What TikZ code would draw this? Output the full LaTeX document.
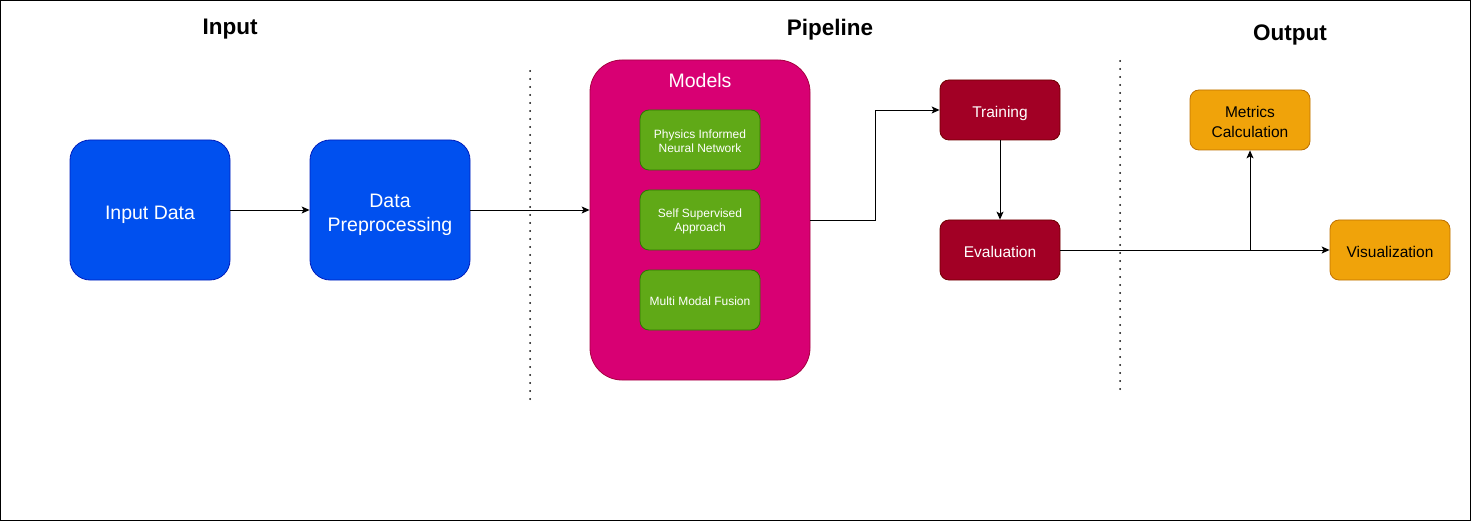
\documentclass[tikz,border=0pt]{standalone}
\usepackage{fontspec}
\setmainfont{Liberation Sans}
\usetikzlibrary{arrows.meta}
\definecolor{blueF}{HTML}{0050EF}
\definecolor{blueS}{HTML}{001DBC}
\definecolor{pinkF}{HTML}{D80073}
\definecolor{pinkS}{HTML}{A50040}
\definecolor{greenF}{HTML}{60A917}
\definecolor{greenS}{HTML}{2D7600}
\definecolor{redF}{HTML}{A20025}
\definecolor{redS}{HTML}{6F0000}
\definecolor{orF}{HTML}{F0A30A}
\definecolor{orS}{HTML}{BD7000}
\tikzset{
  box/.style={draw, line width=0.8pt, inner sep=2pt, align=center, text=white},
  bluebox/.style={box, fill=blueF, draw=blueS, minimum width=160pt, minimum height=140pt, rounded corners=20pt,
     font=\fontsize{19.5}{24}\selectfont},
  modelbox/.style={box, fill=pinkF, draw=pinkS, minimum width=220pt, minimum height=320pt, rounded corners=32pt},
  greenbox/.style={box, fill=greenF, draw=greenS, minimum width=120pt, minimum height=60pt, rounded corners=9pt,
     font=\fontsize{12}{14}\selectfont},
  redbox/.style={box, fill=redF, draw=redS, minimum width=120pt, minimum height=60pt, rounded corners=9pt,
     font=\fontsize{15.5}{19}\selectfont},
  orbox/.style={box, fill=orF, draw=orS, minimum width=120pt, minimum height=60pt, rounded corners=9pt, text=black,
     font=\fontsize{15.5}{20}\selectfont},
  title/.style={font=\fontsize{22.5}{26}\selectfont\bfseries, inner sep=0pt},
  conn/.style={draw=black, line width=0.9pt, -{Stealth[length=8pt,width=7pt,inset=2pt]}},
  sep/.style={draw=black, line width=2pt, line cap=round, dash pattern=on 0pt off 8pt},
}
\begin{document}
\begin{tikzpicture}[x=1pt,y=-1pt]
\useasboundingbox (0,0) rectangle (1471,521);
\draw[line width=1.2pt] (0.6,0.6) rectangle (1470.4,520.4);

\node[title] (tin) at (230,29) {Input};
\node[title] (tpipe) at (830,30) {Pipeline};
\node[title] (tout) at (1290,35) {Output};

\coordinate (s1a) at (530,71);
\coordinate (s1b) at (530,400);
\coordinate (s2a) at (1120,61);
\coordinate (s2b) at (1120,390);
\draw[sep] (s1a) -- (s1b);
\draw[sep] (s2a) -- (s2b);

\node[bluebox, text height=22.2pt, text depth=4.1pt] (input) at (150,210) {Input Data};
\node[bluebox, text height=46.2pt, text depth=4.1pt] (prep) at (390,210) {Data\\Preprocessing};

\node[modelbox] (models) at (700,220) {};
\node[text=white, font=\fontsize{19.5}{24}\selectfont, inner sep=0pt] (mlabel) at (700,81) {Models};
\node[greenbox, text height=24.8pt, text depth=0pt] (pinn) at (700,140) {Physics Informed\\Neural Network};
\node[greenbox, text height=24.8pt, text depth=2.5pt] (ssa) at (700,220) {Self Supervised\\Approach};
\node[greenbox, text height=10.8pt, text depth=0pt] (mmf) at (700,300) {Multi Modal Fusion};

\node[redbox, text height=18.5pt, text depth=3.3pt] (train) at (1000,110) {Training};
\node[redbox, text height=15.3pt, text depth=0pt] (eval) at (1000,250) {Evaluation};

\node[orbox, text height=35.3pt, text depth=0pt] (metrics) at (1250,120) {Metrics\\Calculation};
\node[orbox, text height=15.3pt, text depth=0pt] (vis) at (1390,250) {Visualization};

\draw[conn] (input.east) -- (prep.east -| prep.west);
\draw[conn] (prep.east) -- (prep.east -| models.west);
\draw[conn] (models.east) -- ++(65,0) |- (train.west);
\draw[conn] (train.south) -- (eval.north);
\draw[conn] (eval.east) -| (metrics.south);
\draw[conn] (eval.east) -- (vis.west);
\end{tikzpicture}
\end{document}
